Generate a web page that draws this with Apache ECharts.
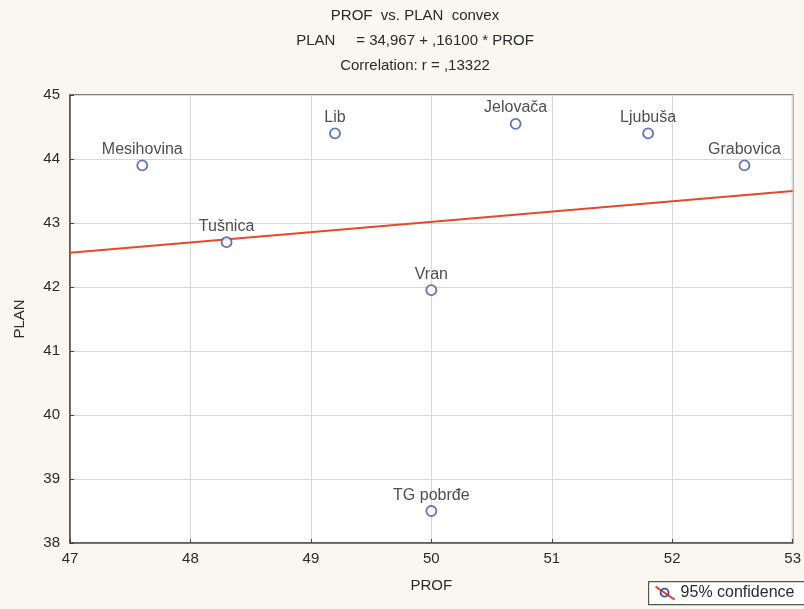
<!DOCTYPE html>
<html>
<head>
<meta charset="utf-8">
<script src="https://cdn.jsdelivr.net/npm/echarts@6/dist/echarts.min.js"></script>
<style>
  html, body { margin: 0; padding: 0; background: #faf7f0; }
  #chart { width: 804px; height: 609px; }
</style>
</head>
<body>
<div id="chart"></div>
<script>
// Sites, with their PROF (x) and PLAN (y) values
const sites = ['Mesihovina', 'Tušnica', 'Lib', 'Jelovača', 'Ljubuša', 'Grabovica', 'Vran', 'TG pobrđe'];
const prof  = [47.6, 48.3, 49.2, 50.7, 51.8, 52.6, 50.0, 50.0];
const plan  = [43.9, 42.7, 44.4, 44.55, 44.4, 43.9, 41.95, 38.5];

// Fitted line: PLAN = intercept + slope * PROF
const intercept = 34.967;
const slope = 0.16100;
const fitRange = [47, 53];

const xTicks = { min: 47, max: 53, step: 1 };
const yTicks = { min: 38, max: 45, step: 1 };

const titleLines = [
  'PROF  vs. PLAN  convex',
  'PLAN     = 34,967 + ,16100 * PROF',
  'Correlation: r = ,13322'
];
const legendText = '95% confidence';

const points = prof.map((x, i) => [x, plan[i]]);
const fitLine = fitRange.map(x => [x, intercept + slope * x]);

const chart = echarts.init(document.getElementById('chart'));
const font = 'Liberation Sans, Arial, sans-serif';
const ink = '#2b2b2b';

chart.setOption({
  backgroundColor: '#faf7f0',
  animation: false,
  title: titleLines.map((t, i) => ({
    text: t,
    left: 410,
    top: 3 + i * 25,
    textAlign: 'center',
    textStyle: { fontFamily: font, fontSize: 15, fontWeight: 'normal', color: ink }
  })),
  grid: {
    left: 70, right: 9, top: 95, bottom: 66,
    show: true, backgroundColor: '#ffffff', borderColor: '#555', borderWidth: 1.5
  },
  xAxis: {
    type: 'value', min: xTicks.min, max: xTicks.max, interval: xTicks.step,
    name: 'PROF', nameLocation: 'middle', nameGap: 35,
    nameTextStyle: { fontFamily: font, fontSize: 15, color: ink },
    axisLine: { show: true, lineStyle: { color: '#555', width: 1.5 } },
    axisTick: { show: true, inside: true, length: 4, lineStyle: { color: '#444' } },
    axisLabel: { fontFamily: font, fontSize: 15, color: ink, margin: 8 },
    splitLine: { show: true, lineStyle: { color: '#d8d8d8', width: 1 } }
  },
  yAxis: {
    type: 'value', min: yTicks.min, max: yTicks.max, interval: yTicks.step,
    name: 'PLAN', nameLocation: 'middle', nameGap: 43,
    nameTextStyle: { fontFamily: font, fontSize: 15, color: ink },
    axisLine: { show: true, lineStyle: { color: '#555', width: 1.5 } },
    axisTick: { show: true, inside: true, length: 4, lineStyle: { color: '#444' } },
    axisLabel: { fontFamily: font, fontSize: 15, color: ink, margin: 10 },
    splitLine: { show: true, lineStyle: { color: '#d8d8d8', width: 1 } }
  },
  series: [
    {
      type: 'line',
      name: legendText,
      data: fitLine,
      symbol: 'none',
      lineStyle: { color: '#e8482a', width: 2 },
      z: 2
    },
    {
      type: 'scatter',
      data: points,
      symbol: 'circle',
      symbolSize: 10,
      itemStyle: { color: '#ffffff', borderColor: '#3d52a8', borderWidth: 1.8 },
      label: {
        show: true,
        position: 'top',
        distance: 2,
        formatter: p => sites[p.dataIndex],
        fontFamily: font, fontSize: 16, color: '#222'
      },
      z: 3
    }
  ],
  graphic: [
    {
      type: 'group', left: 648, top: 581,
      children: [
        { type: 'rect', shape: { x: 0, y: 0, width: 170, height: 23 },
          style: { fill: '#ffffff', stroke: '#555', lineWidth: 1.2 } },
        { type: 'line', shape: { x1: 7, y1: 5, x2: 26, y2: 18 },
          style: { stroke: '#e8482a', lineWidth: 2 } },
        { type: 'circle', shape: { cx: 16, cy: 11, r: 4 },
          style: { fill: 'none', stroke: '#3d52a8', lineWidth: 1.8 } },
        { type: 'text', style: { x: 32, y: 3, text: legendText,
          font: '16px ' + font, fill: ink } }
      ]
    }
  ]
});
</script>
</body>
</html>
